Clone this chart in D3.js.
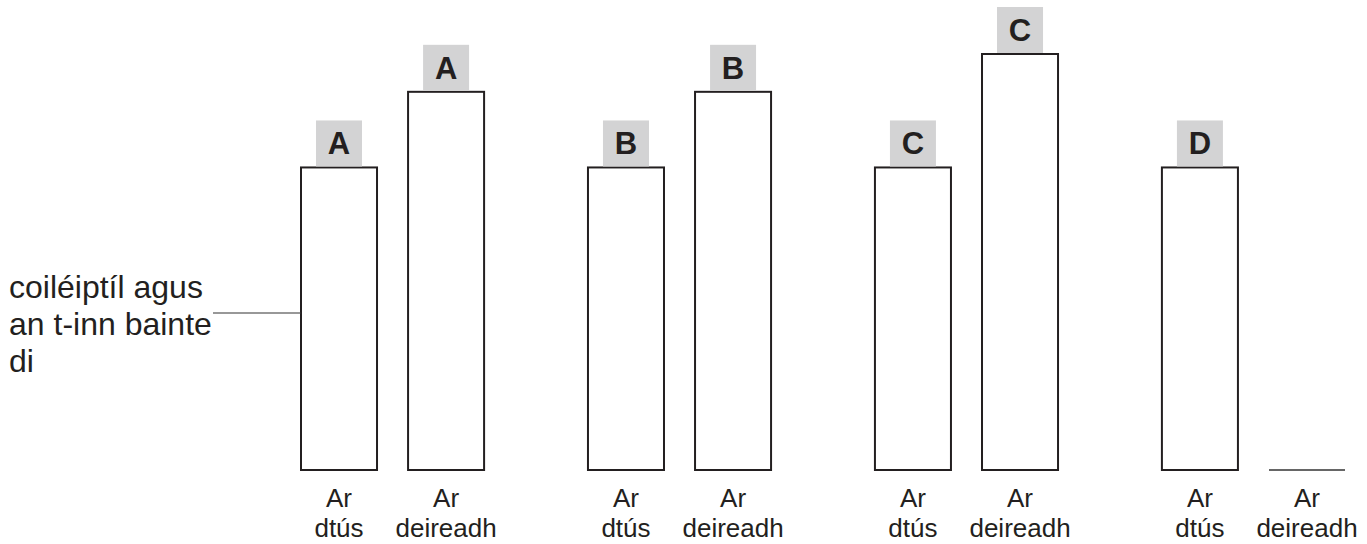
<!DOCTYPE html>
<html>
<head>
<meta charset="utf-8">
<script src="https://cdn.jsdelivr.net/npm/d3@7/dist/d3.min.js"></script>
<style>
  html, body { margin: 0; padding: 0; background: #fff; }
  svg { display: block; }
  text { font-family: "Liberation Sans", Arial, Helvetica, sans-serif; fill: #231f20; }
</style>
</head>
<body>
<svg id="chart" width="1367" height="544"></svg>
<script>
// ---- data ----
const groups = ["A", "B", "C", "D"];
const stages = ["start", "end"];
const stageLabels = [["Ar", "dtús"], ["Ar", "deireadh"]];
const startValues = [8, 8, 8, 8];
const endValues = [10, 10, 11, 0];
const annotationLines = ["coiléiptíl agus", "an t-inn bainte", "di"];

const data = [];
groups.forEach((g, i) => {
  data.push({ group: g, stage: "start", value: startValues[i] });
  data.push({ group: g, stage: "end", value: endValues[i] });
});

// ---- layout ----
const svg = d3.select("#chart");
const x0 = d3.scaleBand().domain(groups).range([301, 1345]).paddingInner(0.362).paddingOuter(0);
const x1 = d3.scaleBand().domain(stages).range([0, x0.bandwidth()]).paddingInner(0.29).paddingOuter(0);
const y = d3.scaleLinear().domain([0, 11]).range([470, 54]);

const ink = "#231f20";
const boxSize = 46;

const g = svg.append("g");

// bars
const bars = g.selectAll("g.bar").data(data).join("g").attr("class", "bar")
  .attr("transform", d => `translate(${x0(d.group) + x1(d.stage)},0)`);

bars.each(function(d) {
  const sel = d3.select(this);
  const w = x1.bandwidth();
  if (d.value > 0) {
    sel.append("rect")
      .attr("x", 0).attr("y", y(d.value))
      .attr("width", w).attr("height", y(0) - y(d.value))
      .attr("fill", "#fff").attr("stroke", ink).attr("stroke-width", 2);
    // label box
    sel.append("rect")
      .attr("x", w / 2 - boxSize / 2).attr("y", y(d.value) - 1 - boxSize)
      .attr("width", boxSize).attr("height", boxSize)
      .attr("fill", "#d3d3d4");
    sel.append("text")
      .attr("x", w / 2).attr("y", y(d.value) - 1 - boxSize / 2 + 11)
      .attr("text-anchor", "middle")
      .attr("font-size", 31).attr("font-weight", "bold")
      .text(d.group);
  } else {
    sel.append("line")
      .attr("x1", 0).attr("x2", w)
      .attr("y1", y(0)).attr("y2", y(0))
      .attr("stroke", "#333").attr("stroke-width", 1.5);
  }
  // stage labels
  const lbl = stageLabels[stages.indexOf(d.stage)];
  const t = sel.append("text").attr("text-anchor", "middle").attr("font-size", 26);
  t.append("tspan").attr("x", w / 2).attr("y", 507).text(lbl[0]);
  t.append("tspan").attr("x", w / 2).attr("y", 537).text(lbl[1]);
});

// annotation
const ann = svg.append("text").attr("font-size", 32);
annotationLines.forEach((s, i) => {
  ann.append("tspan").attr("x", 9).attr("y", 298 + i * 37).text(s);
});
svg.append("line")
  .attr("x1", 213).attr("x2", x0("A"))
  .attr("y1", 313).attr("y2", 313)
  .attr("stroke", "#333").attr("stroke-width", 1.2);
</script>
</body>
</html>
